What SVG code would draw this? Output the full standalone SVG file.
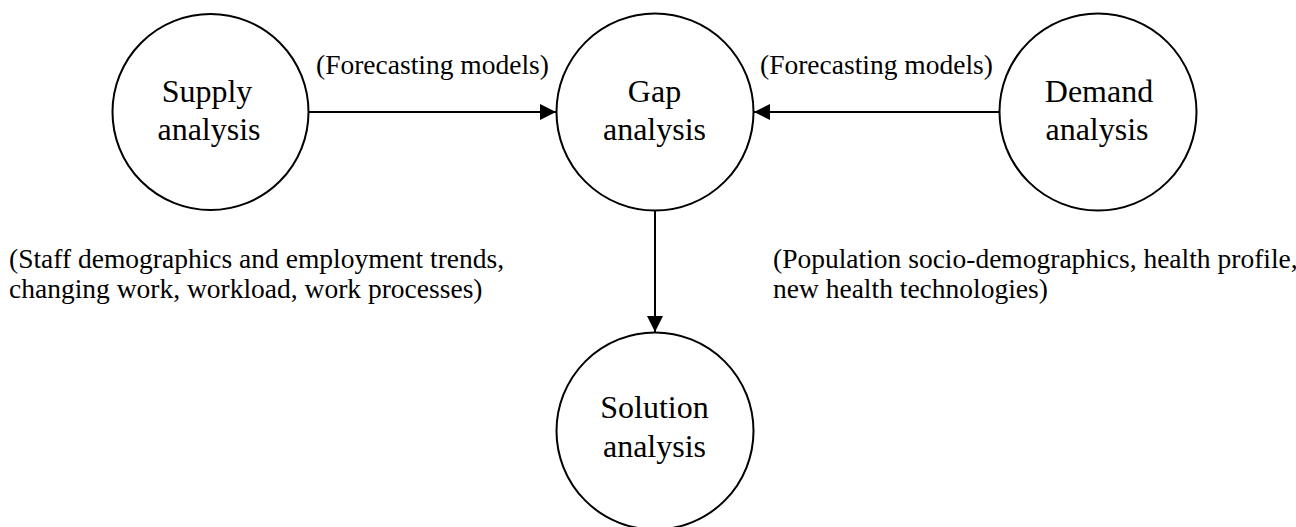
<svg xmlns="http://www.w3.org/2000/svg" width="1296" height="527" viewBox="0 0 1296 527">
  <style>
    .node circle { fill: #ffffff; stroke: #000000; stroke-width: 2; }
    .node text { font-family: "Liberation Serif", "Times New Roman", serif; font-size: 32px; fill: #000000; text-anchor: middle; }
    .label { font-family: "Liberation Serif", "Times New Roman", serif; font-size: 27.5px; fill: #000000; }
    .edge { stroke: #000000; stroke-width: 2; fill: none; }
  </style>
  <defs>
    <marker id="arrow" viewBox="0 0 16 16" refX="16" refY="8" markerWidth="16" markerHeight="16" markerUnits="userSpaceOnUse" orient="auto">
      <path d="M0,0 L16,8 L0,16 Z" fill="#000000"/>
    </marker>
  </defs>
  <rect width="1296" height="527" fill="#ffffff"/>

  <!-- connectors -->
  <g id="connectors">
    <line class="edge" x1="309" y1="112" x2="556" y2="112" marker-end="url(#arrow)"/>
    <line class="edge" x1="999" y1="112" x2="754" y2="112" marker-end="url(#arrow)"/>
    <line class="edge" x1="655" y1="210" x2="655" y2="332" marker-end="url(#arrow)"/>
  </g>

  <!-- nodes -->
  <g id="supply" class="node">
    <circle cx="210.5" cy="112" r="98"/>
    <text x="207" y="102">Supply</text>
    <text x="209" y="140">analysis</text>
  </g>
  <g id="gap" class="node">
    <circle cx="655" cy="112" r="98.5"/>
    <text x="654.5" y="102">Gap</text>
    <text x="654.5" y="140">analysis</text>
  </g>
  <g id="demand" class="node">
    <circle cx="1098" cy="112" r="98.5"/>
    <text x="1099" y="102">Demand</text>
    <text x="1097" y="140">analysis</text>
  </g>
  <g id="solution" class="node">
    <circle cx="655" cy="431" r="98.5"/>
    <text x="654.5" y="418">Solution</text>
    <text x="654.5" y="457">analysis</text>
  </g>

  <!-- annotations -->
  <g id="labels">
    <text class="label" x="316" y="74">(Forecasting models)</text>
    <text class="label" x="760" y="74">(Forecasting models)</text>
    <text class="label" x="9" y="268">(Staff demographics and employment trends,</text>
    <text class="label" x="9" y="298">changing work, workload, work processes)</text>
    <text class="label" x="773" y="268">(Population socio-demographics, health profile,</text>
    <text class="label" x="773" y="298">new health technologies)</text>
  </g>
</svg>
